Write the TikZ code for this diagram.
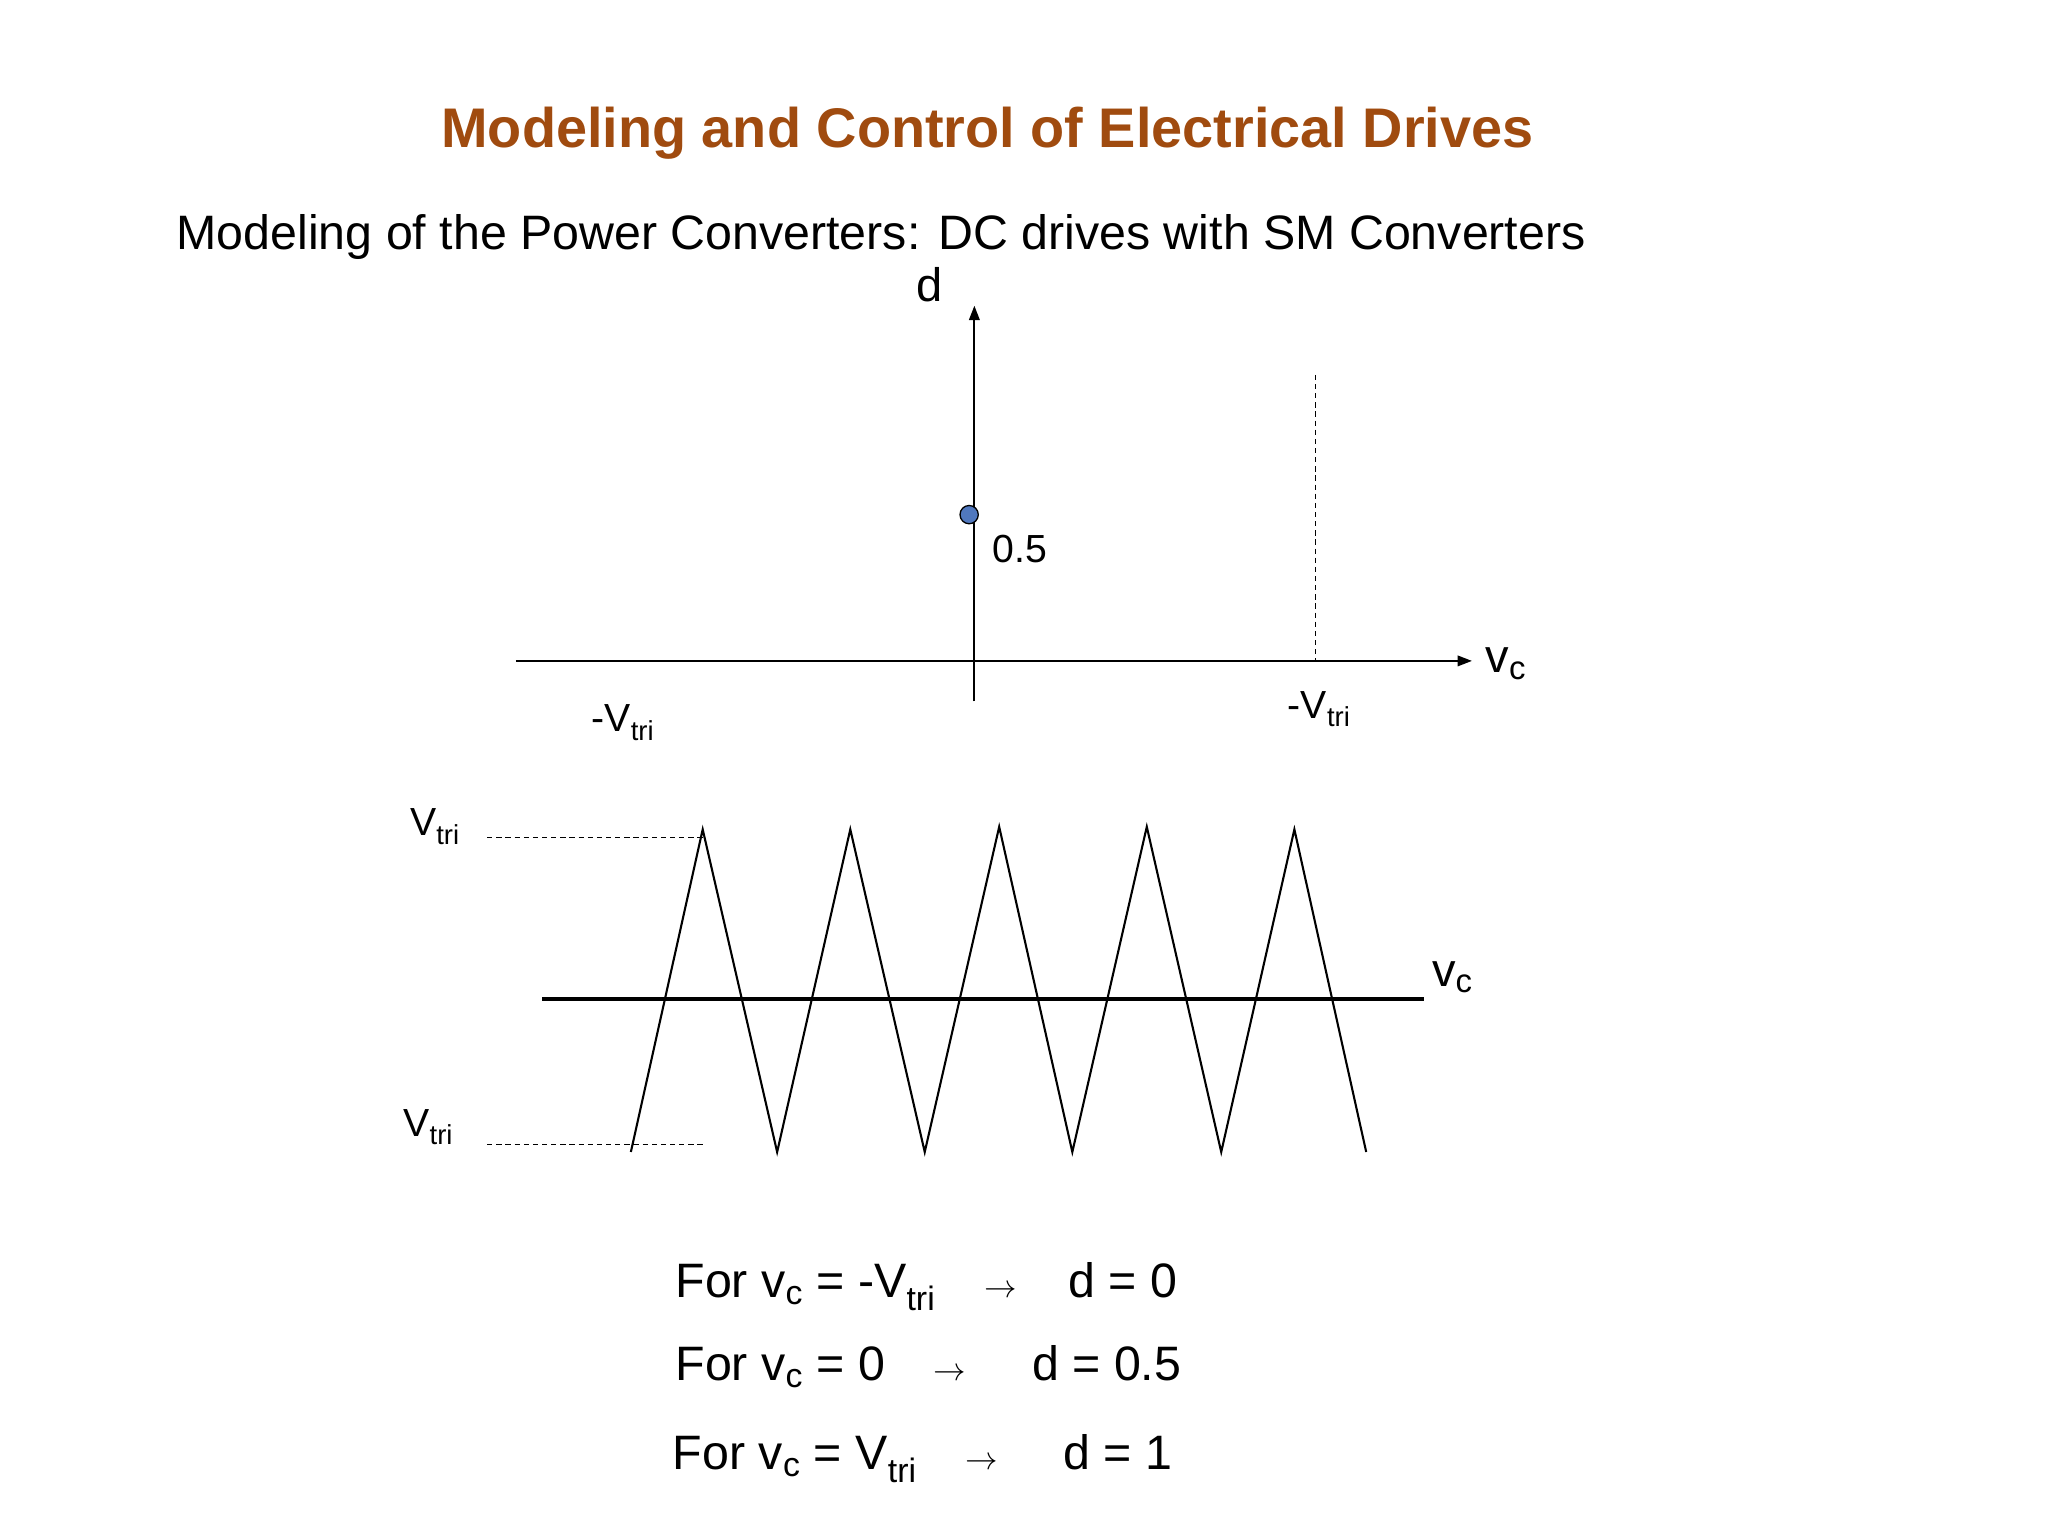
\documentclass[tikz,border=0pt]{standalone}
\usepackage{fontspec}
\setmainfont{Liberation Sans}
\usetikzlibrary{arrows.meta}
\definecolor{titlebrown}{RGB}{160,75,15}
\definecolor{dotblue}{RGB}{80,120,190}
\begin{document}
\begin{tikzpicture}[x=1pt,y=-1pt,
  lbl/.style={inner sep=0pt,font=\fontsize{30}{34}\selectfont},
  eq/.style={inner sep=0pt,anchor=base west,font=\fontsize{37}{40}\selectfont},
  ax/.style={line width=1.6pt,-{Triangle[length=11pt,width=8pt]}},
  dsh/.style={dashed,line width=0.9pt,dash pattern=on 4pt off 3pt}]
\useasboundingbox (0,0) rectangle (1568,1176);
\node[inner sep=0pt,text=titlebrown] (title) at (756,102) {\resizebox{836pt}{!}{\bfseries Modeling and Control of Electrical Drives}};
\node[inner sep=0pt,anchor=base west,font=\fontsize{37}{40}\selectfont] (sub) at (135,191) {Modeling of the Power Converters: DC drives with SM Converters};
% upper axes
\coordinate (xl) at (395,506); \coordinate (xr) at (1127,506);
\coordinate (yb) at (746,537); \coordinate (yt) at (746,234);
\draw[ax] (xl) -- (xr);
\draw[ax] (yb) -- (yt);
\node[lbl,font=\fontsize{36}{40}\selectfont] (d) at (712,218) {d};
\node[circle,draw,fill=dotblue,minimum size=14pt,inner sep=0pt,line width=1pt] (dot) at (742,394) {};
\node[lbl] (half) at (781,420) {0.5};
\coordinate (dt) at (1007,287); \coordinate (db) at (1007,506);
\draw[dsh] (dt) -- (db);
\node[lbl] (vl) at (477,553) {-V\textsubscript{tri}};
\node[lbl] (vr) at (1010,543) {-V\textsubscript{tri}};
\node[lbl,font=\fontsize{36}{40}\selectfont] (vc1) at (1153,508) {v\textsubscript{c}};
% lower
\coordinate (ca) at (415,765); \coordinate (cb) at (1090,765);
\draw[line width=3.5pt] (ca) -- (cb);
\node[lbl,font=\fontsize{36}{40}\selectfont] (vc2) at (1112,748) {v\textsubscript{c}};
\draw[line width=1.6pt,line join=miter] (483,882)--(538,635)--(595,882)--(651,635)--(708,882)--(765,633)--(821,882)--(878,633)--(935,882)--(991,635)--(1046,882);
\coordinate (t1) at (373,641); \coordinate (t2) at (538,641);
\coordinate (b1) at (373,876); \coordinate (b2) at (538,876);
\draw[dsh] (t1) -- (t2);
\draw[dsh] (b1) -- (b2);
\node[lbl] (vt) at (333,633) {V\textsubscript{tri}};
\node[lbl] (vb) at (328,863) {V\textsubscript{tri}};
% equations
\node[eq] (e1) at (517,993) {For v\textsubscript{c} = -V\textsubscript{tri}};
\node[eq,anchor=base] (a1) at (766,993) {$\rightarrow$};
\node[eq] (r1) at (818,993) {d = 0};
\node[eq] (e2) at (517,1057) {For v\textsubscript{c} = 0};
\node[eq,anchor=base] (a2) at (727,1057) {$\rightarrow$};
\node[eq] (r2) at (790,1057) {d = 0.5};
\node[eq] (e3) at (515,1125) {For v\textsubscript{c} = V\textsubscript{tri}};
\node[eq,anchor=base] (a3) at (752,1125) {$\rightarrow$};
\node[eq] (r3) at (814,1125) {d = 1};
\end{tikzpicture}
\end{document}
